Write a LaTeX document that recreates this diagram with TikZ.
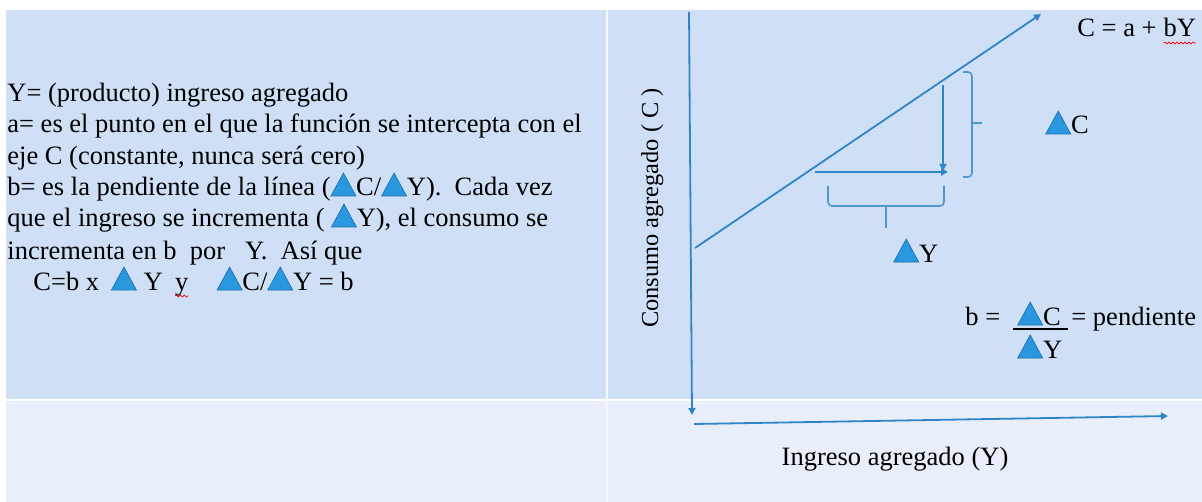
\documentclass[tikz,border=0pt]{standalone}
\usepackage{fontspec}
\setmainfont{Liberation Serif}
\usetikzlibrary{arrows.meta,decorations.pathmorphing}
\definecolor{panel}{RGB}{207,223,245}
\definecolor{panellow}{RGB}{233,239,250}
\definecolor{axis}{RGB}{47,133,199}
\definecolor{trifill}{RGB}{42,152,222}
\definecolor{triedge}{RGB}{28,108,172}
\tikzstyle{txt} = [font=\fontsize{13.25}{15.6}\selectfont, inner sep=0pt, anchor=base west]
\tikzstyle{axisline} = [draw=axis, line width=.9pt]
\tikzstyle{brack} = [draw=axis!85, line width=.8pt, rounded corners=2pt]
\tikzstyle{tri} = [fill=trifill, draw=triedge, line width=.3pt]
\newcommand{\dlt}{\tikz[baseline=0pt,x=1pt,y=1pt]\filldraw[tri] (0,0) -- (12.5,0) -- (6.25,11.5) -- cycle;}
\newcommand{\wavy}[1]{\tikz[baseline=(w.base)]{\node[inner sep=0pt,outer sep=0pt,anchor=base] (w) at (0,0) {#1};
    \draw[red,line width=.35pt,decorate,decoration={snake,amplitude=.5pt,segment length=2pt}] ([yshift=-3pt]w.base west) -- ([yshift=-3pt]w.base east);}}

\begin{document}
\begin{tikzpicture}[x=.5pt,y=-.5pt,>={Triangle[length=3.5pt,width=3.5pt]}]
    \useasboundingbox (0,0) rectangle (1202,502);
    \fill[white] (0,0) rectangle (1202,502);
    \fill[panel] (6,10) rectangle (1202,399);
    \fill[panellow] (6,401) rectangle (1202,502);
    \fill[white!60!panellow] (606,10) rectangle (608,502);

    \draw (7,102) node[txt] (l1) {Y= (producto) ingreso agregado};
    \draw (7,133) node[txt] (l2) {a= es el punto en el que la función se intercepta con el};
    \draw (7,165) node[txt] (l3) {eje C (constante, nunca será cero)};
    \draw (7,196) node[txt] (l4) {b= es la pendiente de la línea (\dlt C/\dlt Y).\ \ Cada vez};
    \draw (7,227) node[txt] (l5) {que el ingreso se incrementa ( \dlt Y), el consumo se};
    \draw (7,259) node[txt] (l6) {incrementa en b\ \ por\ \ \ Y.\ \ Así que};
    \draw (33,290) node[txt] (l7) {C=b x\hspace{6pt}\dlt\hspace{3.5pt}Y\hspace{6pt}\wavy{y}\hspace{14pt}\dlt C/\dlt Y = b};

    \coordinate (ytop) at (689,12);
    \coordinate (ybot) at (692,415);
    \coordinate (xleft) at (694,424);
    \coordinate (xright) at (1168,416);
    \coordinate (cstart) at (695,248);
    \coordinate (cend) at (1041,14);
    \coordinate (dctop) at (943,85);
    \coordinate (dcbot) at (943,171);
    \coordinate (dyleft) at (815,172);
    \coordinate (dyright) at (948,172);
    \draw[axisline,->] (ytop) -- (ybot);
    \draw[axisline,->] (xleft) -- (xright);
    \draw[axisline,->] (cstart) -- (cend);
    \draw[axisline,->] (dctop) -- (dcbot);
    \draw[axisline,->] (dyleft) -- (dyright);

    \draw[brack] (963,72) -- (972,72) -- (972,177) -- (963,177);
    \draw[brack] (972,123) -- (982,123);
    \draw[brack] (828,186) -- (828,206) -- (944,206) -- (944,186);
    \draw[brack] (886,206) -- (886,228);

    \draw (1077,37) node[txt] (cfun) {C = a + \wavy{bY}};
    \draw (658,208) node[txt,anchor=base,rotate=90,font=\fontsize{12.2}{14.6}\selectfont] (ylab) {Consumo agregado ( C )};
    \draw (895,465) node[txt,anchor=base] (xlab) {Ingreso agregado (Y)};
    \draw (1045,134) node[txt] (dc) {\dlt C};
    \draw (893,262) node[txt] (dy) {\dlt Y};
    \draw (965,325) node[txt] (bq) {b =};
    \draw (1017,325) node[txt] (num) {\dlt C};
    \draw (1017,358) node[txt] (den) {\dlt Y};
    \draw (1071,325) node[txt] (pend) {= pendiente};
    \draw[line width=.6pt] ([shift={(-4,4)}]num.base west) -- ([shift={(7,4)}]num.base east);
\end{tikzpicture}
\end{document}
